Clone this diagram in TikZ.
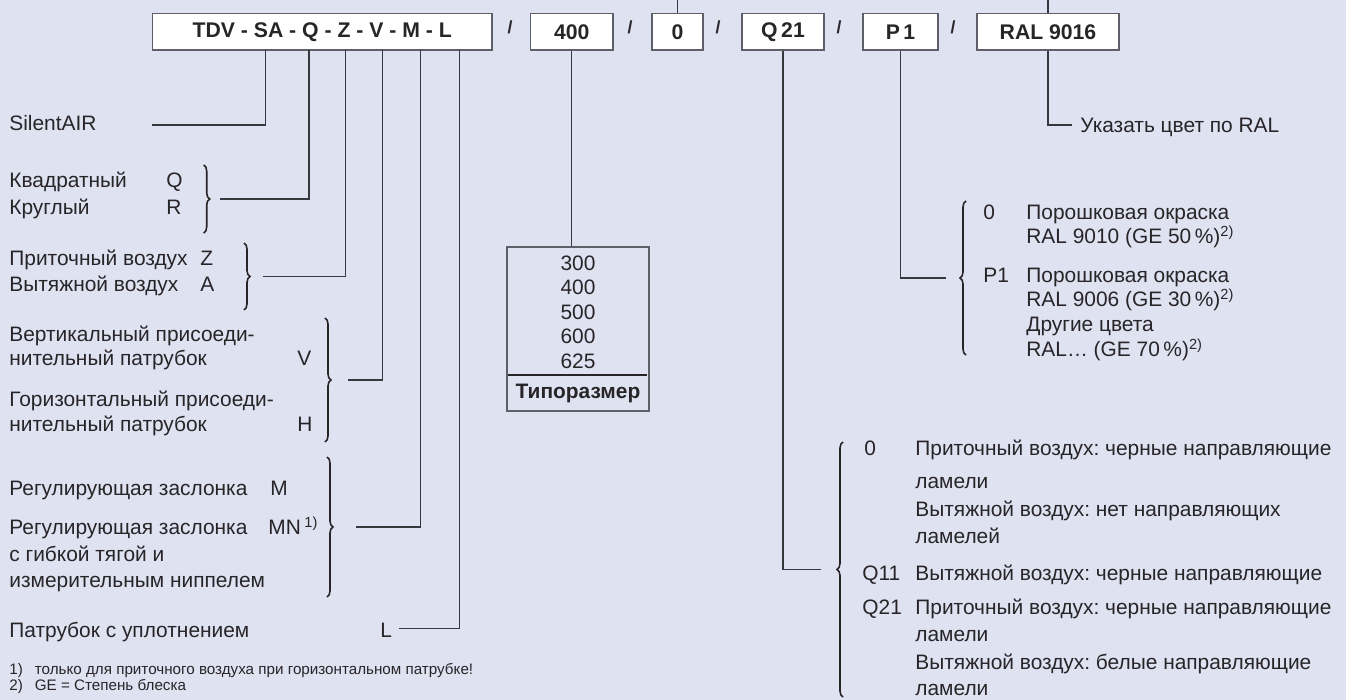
\documentclass[tikz,border=0pt]{standalone}
\usepackage{fontspec}
\setmainfont{Liberation Sans}
\usetikzlibrary{decorations.pathreplacing}
\frenchspacing
\definecolor{bgviolet}{RGB}{223,226,241}
\definecolor{inkgray}{RGB}{40,37,40}
\definecolor{wiregray}{RGB}{55,55,62}
\definecolor{framegray}{RGB}{95,95,105}
\tikzset{
  codebox/.style={draw=framegray,fill=white,line width=0.6pt,minimum height=18.2pt,inner sep=0pt,
                  text=inkgray,font=\bfseries\fontsize{10.6}{12}\selectfont},
  slashmark/.style={inner sep=0pt,text=inkgray,font=\bfseries\fontsize{8.8}{10}\selectfont},
  lbl/.style={anchor=base west,inner sep=0pt,text=inkgray,font=\fontsize{10.45}{12}\selectfont},
  cell/.style={lbl,anchor=base},
  note/.style={lbl,font=\fontsize{7.6}{9}\selectfont},
  wire/.style={draw=wiregray,line width=0.6pt},
  clamp/.style={draw=inkgray,line width=0.8pt,decorate,decoration={brace,amplitude=3pt}}
}
\begin{document}
\begin{tikzpicture}[x=0.5pt,y=-0.5pt]
%width=1346px
%height=700px
\useasboundingbox[fill=bgviolet] (0,0) rectangle (1346,700);
% code boxes
\node[codebox,minimum width=169.8pt] (bxCode) at ( 322.2,31.8) {TDV - SA - Q - Z - V - M - L};
\node[codebox,minimum width= 41.3pt] (bxSize) at ( 571.7,31.8) {400};
\node[codebox,minimum width= 25.5pt] (bxZero) at ( 677.5,31.8) {0};
\node[codebox,minimum width= 41.0pt] (bxQ)    at ( 783.0,31.8) {Q\,21};
\node[codebox,minimum width= 37.5pt] (bxP)    at ( 900.5,31.8) {P\,1};
\node[codebox,minimum width= 71.0pt] (bxRal)  at (1048.0,31.8) {RAL 9016};
\node[slashmark] (sl1) at ( 510,27.5) {/};
\node[slashmark] (sl2) at ( 630,27.5) {/};
\node[slashmark] (sl3) at ( 718,27.5) {/};
\node[slashmark] (sl4) at ( 839,27.5) {/};
\node[slashmark] (sl5) at ( 953,27.5) {/};
% coordinates
\coordinate (oSA)  at (265.5, 50);
\coordinate (oQ)   at (309.0, 50);
\coordinate (oZ)   at (345.7, 50);
\coordinate (oV)   at (382.5, 50);
\coordinate (oM)   at (420.5, 50);
\coordinate (oL)   at (459.6, 50);
\coordinate (eSA)  at (152.0,125.0);
\coordinate (eQ)   at (220.0,199.0);
\coordinate (eZ)   at (263.0,276.5);
\coordinate (eV)   at (348.0,380.0);
\coordinate (eM)   at (356.0,527.0);
\coordinate (eL)   at (399.0,628.3);
\coordinate (eP1)  at (946.0,278.0);
\coordinate (eQ21) at (820.5,569.5);
\coordinate (eRal) at (1072.0,125.0);
\coordinate (topZero) at ( 677.5,0);
\coordinate (topRal)  at (1048.0,0);
% left column
\node[lbl] (tSilent) at (  9,130.5) {SilentAIR};
\node[lbl] (tQuad)   at (  9,188.0) {Квадратный};
\node[lbl] (tQ)      at (166,188.0) {Q};
\node[lbl] (tRound)  at (  9,215.0) {Круглый};
\node[lbl] (tR)      at (166,215.0) {R};
\node[lbl] (tSup)    at (  9,266.0) {Приточный воздух};
\node[lbl] (tZ)      at (200,266.0) {Z};
\node[lbl] (tExh)    at (  9,291.5) {Вытяжной воздух};
\node[lbl] (tA)      at (200,291.5) {A};
\node[lbl] (tVertA)  at (  9,342.0) {Вертикальный присоеди-};
\node[lbl] (tVertB)  at (  9,366.0) {нительный патрубок};
\node[lbl] (tV)      at (297,366.0) {V};
\node[lbl] (tHorA)   at (  9,407.0) {Горизонтальный присоеди-};
\node[lbl] (tHorB)   at (  9,431.5) {нительный патрубок};
\node[lbl] (tH)      at (297,431.5) {H};
\node[lbl] (tDamp)   at (  9,495.0) {Регулирующая заслонка};
\node[lbl] (tM)      at (270,495.0) {M};
\node[lbl] (tDampA)  at (  9,535.0) {Регулирующая заслонка};
\node[lbl] (tMN)     at (268,535.0) {MN\,\textsuperscript{1)}};
\node[lbl] (tDampB)  at (  9,561.5) {с гибкой тягой и};
\node[lbl] (tDampC)  at (  9,588.0) {измерительным ниппелем};
\node[lbl] (tSpig)   at (  9,637.5) {Патрубок с уплотнением};
\node[lbl] (tL)      at (380,637.5) {L};
\node[note] (fnA)    at (  9,675.0) {1)\hspace{6pt}только для приточного воздуха при горизонтальном патрубке!};
\node[note] (fnB)    at (  9,690.0) {2)\hspace{6pt}GE = Степень блеска};
% size table
\node[draw=framegray,line width=0.6pt,minimum width=71pt,minimum height=82pt,inner sep=0pt] (tbl) at (578,329) {};
\node[cell] (n300) at (578,270.5) {300};
\node[cell] (n400) at (578,295.0) {400};
\node[cell] (n500) at (578,319.3) {500};
\node[cell] (n600) at (578,343.8) {600};
\node[cell] (n625) at (578,368.3) {625};
\draw[inkgray,line width=1.1pt] (508,375.3) -- (647,375.3);
\node[cell,font=\bfseries\fontsize{10.45}{12}\selectfont] (tSize) at (578,398.3) {Типоразмер};
% colour column
\node[lbl] (tRalHint) at (1080,132.7) {Указать цвет по RAL};
\node[lbl] (pZero)  at ( 983,220.0) {0};
\node[lbl] (pZeroA) at (1026,220.0) {Порошковая окраска};
\node[lbl] (pZeroB) at (1026,244.0) {RAL 9010 (GE 50\,\%)\textsuperscript{2)}};
\node[lbl] (pOne)   at ( 983,282.7) {P1};
\node[lbl] (pOneA)  at (1026,282.7) {Порошковая окраска};
\node[lbl] (pOneB)  at (1026,306.7) {RAL 9006 (GE 30\,\%)\textsuperscript{2)}};
\node[lbl] (pOneC)  at (1026,331.7) {Другие цвета};
\node[lbl] (pOneD)  at (1026,356.7) {RAL\ldots{} (GE 70\,\%)\textsuperscript{2)}};
% blade column
\node[lbl] (gZero)  at (864,456.0) {0};
\node[lbl] (gZeroA) at (915,456.0) {Приточный воздух: черные направляющие};
\node[lbl] (gZeroB) at (915,488.6) {ламели};
\node[lbl] (gZeroC) at (915,516.6) {Вытяжной воздух: нет направляющих};
\node[lbl] (gZeroD) at (915,544.0) {ламелей};
\node[lbl] (gElev)  at (862,581.0) {Q11};
\node[lbl] (gElevA) at (915,581.0) {Вытяжной воздух: черные направляющие};
\node[lbl] (gTw)    at (862,615.0) {Q21};
\node[lbl] (gTwA)   at (915,615.0) {Приточный воздух: черные направляющие};
\node[lbl] (gTwB)   at (915,641.0) {ламели};
\node[lbl] (gTwC)   at (915,669.0) {Вытяжной воздух: белые направляющие};
\node[lbl] (gTwD)   at (915,696.0) {ламели};
% braces
\draw[clamp] (203.7,165) -- (203.7,233);
\draw[clamp] (244.0,243) -- (244.0,310);
\draw[clamp] (325.0,318) -- (325.0,442);
\draw[clamp] (327.0,457) -- (327.0,597);
\draw[clamp] (966.0,355) -- (966.0,201);
\draw[clamp] (843.0,697) -- (843.0,442);
% connectors
\draw[wire] (oSA) |- (eSA);
\draw[wire] (oQ)  |- (eQ);
\draw[wire] (oZ)  |- (eZ);
\draw[wire] (oV)  |- (eV);
\draw[wire] (oM)  |- (eM);
\draw[wire] (oL)  |- (eL);
\draw[wire] (bxSize.south) -- (bxSize.south |- tbl.north);
\draw[wire] (bxQ.south)   |- (eQ21);
\draw[wire] (bxP.south)   |- (eP1);
\draw[wire] (bxRal.south) |- (eRal);
\draw[wire] (bxZero.north) -- (topZero);
\draw[wire] (bxRal.north)  -- (topRal);
\end{tikzpicture}
\end{document}
